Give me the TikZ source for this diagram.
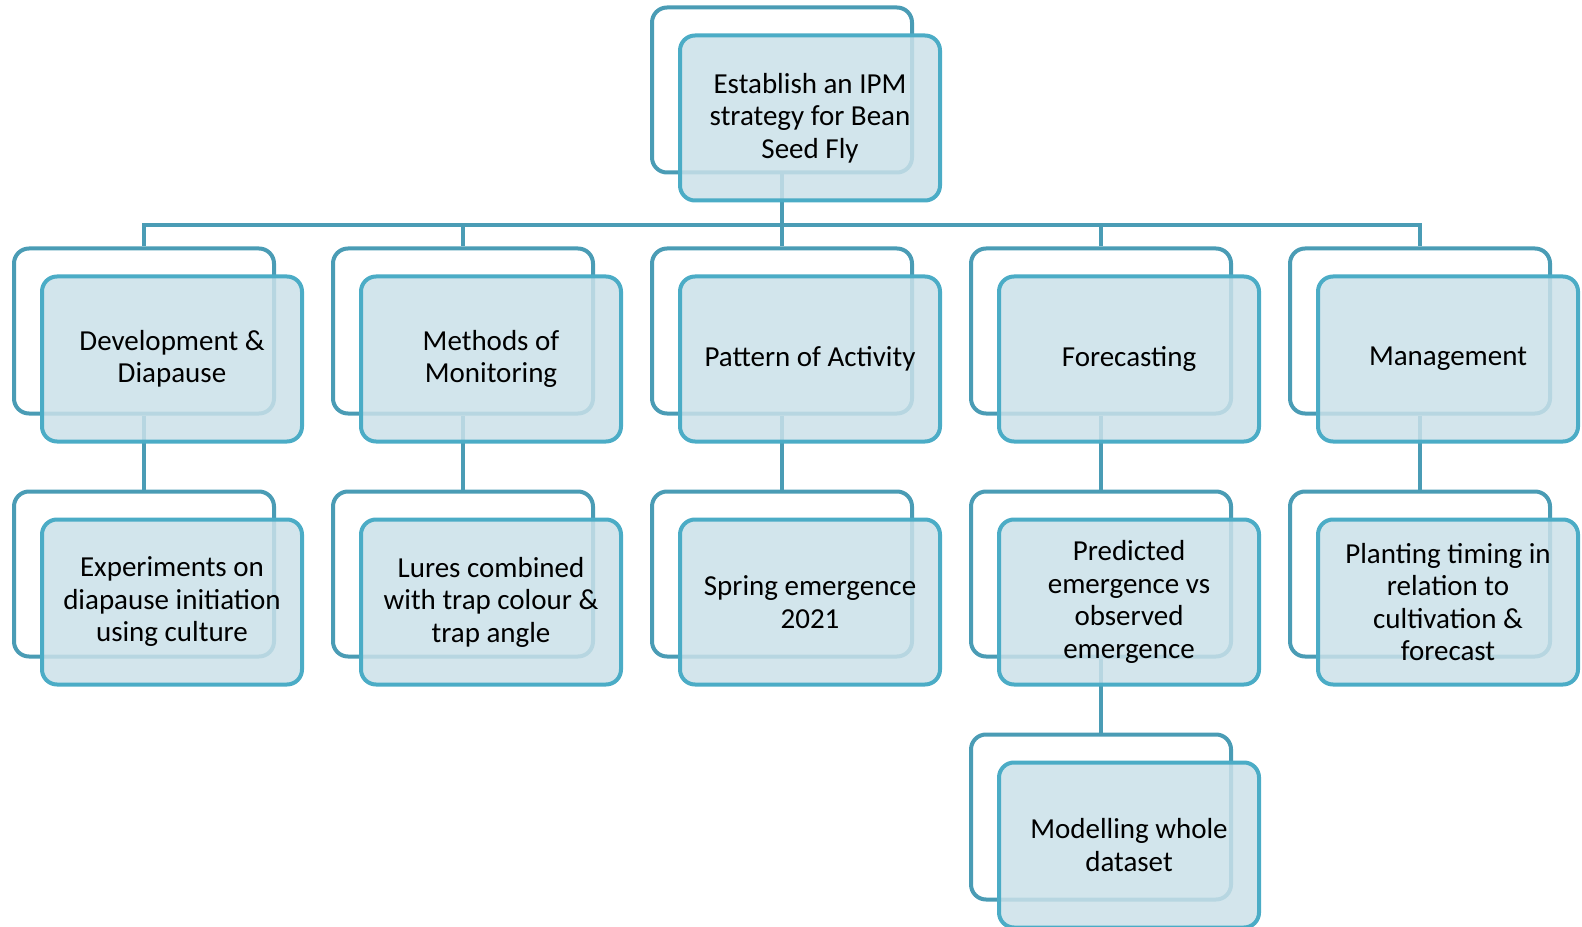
\documentclass[tikz,border=0pt]{standalone}
\usepackage{fontspec}
\setmainfont{Carlito}
\definecolor{backline}{RGB}{74,156,181}
\definecolor{frontline}{RGB}{75,172,198}
\definecolor{frontfill}{RGB}{203,225,233}
\begin{document}
\begin{tikzpicture}[
  back/.style={rectangle, rounded corners=0.3cm, draw=backline, line width=0.08cm, fill=white, minimum width=5.2cm, minimum height=3.3cm},
  front/.style={rectangle, rounded corners=0.3cm, draw=frontline, line width=0.08cm, fill=frontfill, fill opacity=0.85, text opacity=1, minimum width=5.2cm, minimum height=3.3cm, align=center, font=\fontsize{16.5}{18.5}\selectfont},
  link/.style={draw=backline, line width=0.08cm}]

\useasboundingbox (0,0) rectangle (31.64,-18.54);

\node [back] (rootb) at (15.64,-1.80) {};
\node [back] (devb) at (2.88,-6.62) {};
\node [back] (monb) at (9.26,-6.62) {};
\node [back] (patb) at (15.64,-6.62) {};
\node [back] (foreb) at (22.02,-6.62) {};
\node [back] (manb) at (28.40,-6.62) {};
\node [back] (expb) at (2.88,-11.48) {};
\node [back] (lureb) at (9.26,-11.48) {};
\node [back] (springb) at (15.64,-11.48) {};
\node [back] (predb) at (22.02,-11.48) {};
\node [back] (plantb) at (28.40,-11.48) {};
\node [back] (modelb) at (22.02,-16.34) {};

\coordinate (bar) at (0,-4.5);
\draw [link] (rootb.south) |- (bar -| devb.north) -- (devb.north);
\draw [link] (rootb.south) |- (bar -| monb.north) -- (monb.north);
\draw [link] (rootb.south) -- (patb.north);
\draw [link] (rootb.south) |- (bar -| foreb.north) -- (foreb.north);
\draw [link] (rootb.south) |- (bar -| manb.north) -- (manb.north);
\draw [link] (devb.south) -- (expb.north);
\draw [link] (monb.south) -- (lureb.north);
\draw [link] (patb.south) -- (springb.north);
\draw [link] (foreb.south) -- (predb.north);
\draw [link] (manb.south) -- (plantb.north);
\draw [link] (predb.south) -- (modelb.north);

\node [front] (root) at (16.20,-2.36) {Establish an IPM\\strategy for Bean\\Seed Fly};
\node [front] (dev) at (3.44,-7.18) {Development \&\\Diapause};
\node [front] (mon) at (9.82,-7.18) {Methods of\\Monitoring};
\node [front] (pat) at (16.20,-7.18) {Pattern of Activity};
\node [front] (fore) at (22.58,-7.18) {Forecasting};
\node [front] (man) at (28.96,-7.18) {Management};
\node [front] (exp) at (3.44,-12.04) {Experiments on\\diapause initiation\\using culture};
\node [front] (lure) at (9.82,-12.04) {Lures combined\\with trap colour \&\\trap angle};
\node [front] (spring) at (16.20,-12.04) {Spring emergence\\2021};
\node [front] (pred) at (22.58,-12.04) {Predicted\\emergence vs\\observed\\emergence};
\node [front] (plant) at (28.96,-12.04) {Planting timing in\\relation to\\cultivation \&\\forecast};
\node [front] (model) at (22.58,-16.90) {Modelling whole\\dataset};
\end{tikzpicture}
\end{document}
